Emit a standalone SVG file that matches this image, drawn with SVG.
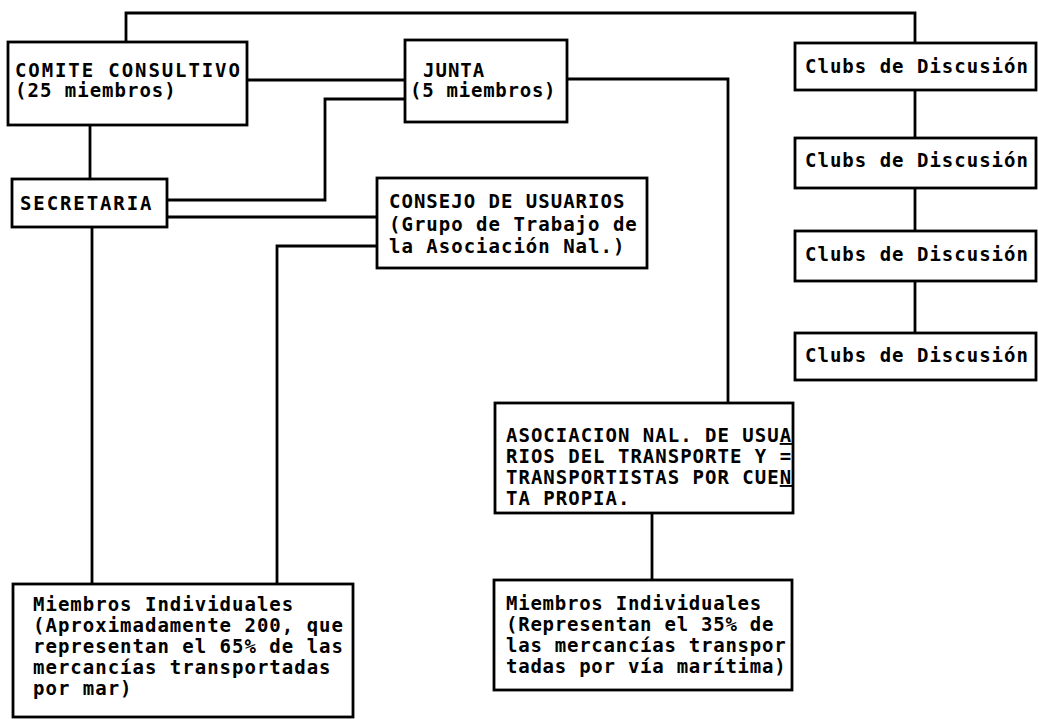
<svg xmlns="http://www.w3.org/2000/svg" width="1038" height="719" viewBox="0 0 1038 719">
<style>
.b{fill:#fff;stroke:#000;stroke-width:2.8}
.c{fill:none;stroke:#000;stroke-width:2.8}
text{font-family:"DejaVu Sans Mono","Liberation Mono",monospace;font-weight:bold;font-size:19px;letter-spacing:1px;fill:#000}
.w{letter-spacing:1.9px}
.n{letter-spacing:0.75px}
.u{text-decoration:underline}
</style>
<rect width="1038" height="719" fill="#fff"/>
<g id="connectors">
<path class="c" d="M126,42 V13 H915 V43"/>
<path class="c" d="M247,80 H405"/>
<path class="c" d="M167,200 H325 V99 H405"/>
<path class="c" d="M90,125 V179"/>
<path class="c" d="M167,217 H377"/>
<path class="c" d="M92,227 V584"/>
<path class="c" d="M377,246 H277 V584"/>
<path class="c" d="M567,79 H728 V403"/>
<path class="c" d="M652,513 V580"/>
<path class="c" d="M915,90 V138"/>
<path class="c" d="M915,188 V231"/>
<path class="c" d="M915,281 V333"/>
</g>
<g id="comite">
<rect class="b" x="8" y="42" width="239" height="83"/>
<text class="w" x="15" y="77">COMITE CONSULTIVO</text>
<text x="15" y="97">(25 miembros)</text>
</g>
<g id="junta">
<rect class="b" x="405" y="40" width="162" height="82"/>
<text x="423" y="77">JUNTA</text>
<text class="n" x="410" y="97">(5 miembros)</text>
</g>
<g id="clubs1">
<rect class="b" x="795" y="43" width="241" height="47"/>
<text x="805" y="73">Clubs de Discusión</text>
</g>
<g id="clubs2">
<rect class="b" x="795" y="138" width="241" height="50"/>
<text x="805" y="167">Clubs de Discusión</text>
</g>
<g id="clubs3">
<rect class="b" x="795" y="231" width="241" height="50"/>
<text x="805" y="261">Clubs de Discusión</text>
</g>
<g id="clubs4">
<rect class="b" x="795" y="333" width="241" height="47"/>
<text x="805" y="362">Clubs de Discusión</text>
</g>
<g id="secretaria">
<rect class="b" x="12" y="179" width="155" height="48"/>
<text class="w" x="20" y="210">SECRETARIA</text>
</g>
<g id="consejo">
<rect class="b" x="377" y="178" width="270" height="90"/>
<text x="389" y="208">CONSEJO DE USUARIOS</text>
<text x="389" y="231">(Grupo de Trabajo de</text>
<text x="389" y="253">la Asociación Nal.)</text>
</g>
<g id="asociacion">
<rect class="b" x="495" y="403" width="298" height="110"/>
<text x="506" y="442">ASOCIACION NAL. DE USU<tspan class="u">A</tspan></text>
<text x="506" y="463">RIOS DEL TRANSPORTE Y =</text>
<text x="506" y="484">TRANSPORTISTAS POR CUE<tspan class="u">N</tspan></text>
<text x="506" y="505">TA PROPIA.</text>
</g>
<g id="miembros-izq">
<rect class="b" x="13" y="584" width="340" height="133"/>
<text x="33" y="611">Miembros Individuales</text>
<text x="33" y="632">(Aproximadamente 200, que</text>
<text x="33" y="653">representan el 65% de las</text>
<text x="33" y="674">mercancías transportadas</text>
<text x="33" y="695">por mar)</text>
</g>
<g id="miembros-der">
<rect class="b" x="494" y="580" width="298" height="110"/>
<text class="n" x="506" y="610">Miembros Individuales</text>
<text class="n" x="506" y="631">(Representan el 35% de</text>
<text class="n" x="506" y="652">las mercancías transpor</text>
<text class="n" x="506" y="673">tadas por vía marítima)</text>
</g>
</svg>
